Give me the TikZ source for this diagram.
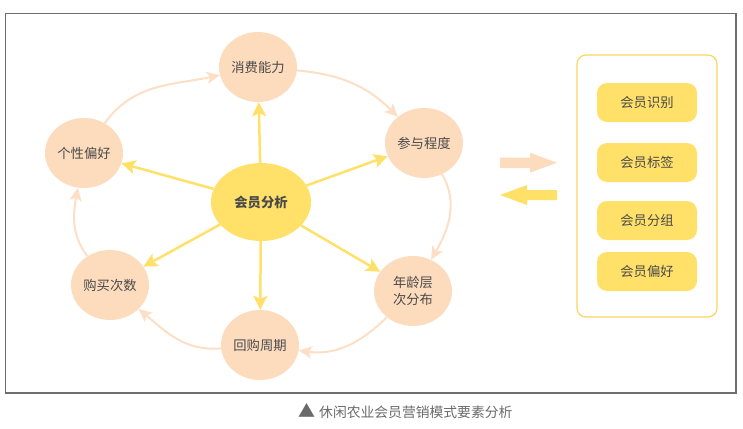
\documentclass[tikz,border=0pt]{standalone}
\usepackage{fontspec}
\setmainfont{Noto Sans CJK SC}
\usetikzlibrary{shapes.geometric,arrows.meta}
\definecolor{peach}{HTML}{FDDCBD}
\definecolor{peachline}{HTML}{FDDFC6}
\definecolor{ylw}{HTML}{FFE169}
\definecolor{boxline}{HTML}{F8D661}
\definecolor{txt}{HTML}{4A4A4A}
\definecolor{frame}{HTML}{6E6E6E}
\definecolor{cap}{HTML}{6A6A6A}
\tikzset{
  circ/.style={ellipse,fill=peach,minimum width=78pt,minimum height=70pt,inner sep=0pt,text=txt,font=\fontsize{13.3pt}{16.5pt}\selectfont,align=center},
  hub/.style={ellipse,fill=ylw,minimum width=100pt,minimum height=78pt,inner sep=0pt,text=txt,font=\fontsize{13.3pt}{16pt}\selectfont\bfseries},
  tag/.style={rectangle,rounded corners=10pt,fill=ylw,minimum width=100pt,minimum height=39pt,inner sep=0pt,text=txt,font=\fontsize{13.3pt}{16pt}\selectfont},
  cyc/.style={draw=peachline,line width=2pt,-{Stealth[length=13pt,width=12pt,inset=3pt]}},
  spoke/.style={draw=ylw,line width=2.5pt,-{Stealth[length=14pt,width=14pt,inset=3pt]}},
}
\begin{document}
\begin{tikzpicture}[x=1pt,y=-1pt]
\useasboundingbox (0,0) rectangle (743,428);
\draw[frame,line width=1.2pt] (5.5,13.5) rectangle (736,393);
% nodes
\node[circ] (cons) at (258,67) {消费能力};
\node[circ] (part) at (424,143) {参与程度};
\node[circ] (age) at (413,291) {年龄层\\次分布};
\node[circ] (rep) at (260,345) {回购周期};
\node[circ] (buy) at (110,285) {购买次数};
\node[circ] (pref) at (84,153) {个性偏好};
\node[hub] (hub) at (261,202) {会员分析};
% cycle
\draw[cyc] (pref) to[out=55,in=192] (cons);
\draw[cyc] (cons) to[out=-5,in=135] (part);
\draw[cyc] (part) to[out=-60,in=60] (age);
\draw[cyc] (age) to[out=-135,in=-8] (rep);
\draw[cyc] (rep) to[out=185,in=-40] (buy);
\draw[cyc] (buy) to[out=128,in=-100] (pref);
% spokes
\draw[spoke] (hub) -- (cons);
\draw[spoke] (hub) -- (part);
\draw[spoke] (hub) -- (age);
\draw[spoke] (hub) -- (rep);
\draw[spoke] (hub) -- (buy);
\draw[spoke] (hub) -- (pref);
% block arrows
\fill[peach] (500,157.5) -- (530,157.5) -- (530,152.7) -- (557,162.7) -- (530,172.7) -- (530,168) -- (500,168) -- cycle;
\fill[ylw] (557,190) -- (527,190) -- (527,185) -- (500,195) -- (527,205) -- (527,200) -- (557,200) -- cycle;
% right panel
\draw[boxline,line width=1.2pt,rounded corners=9pt] (577,55) rectangle (717,317);
\node[tag] (t1) at (647,102.5) {会员识别};
\node[tag] (t2) at (647,162.5) {会员标签};
\node[tag] (t3) at (647,220.5) {会员分组};
\node[tag] (t4) at (647,271.5) {会员偏好};
% caption
\node[anchor=west,inner sep=0pt,text=cap,font=\fontsize{13.8pt}{16pt}\selectfont] (caption) at (298,411.5) {{\fontsize{17pt}{17pt}\selectfont ▲}\hspace{4pt}休闲农业会员营销模式要素分析};
\end{tikzpicture}
\end{document}
